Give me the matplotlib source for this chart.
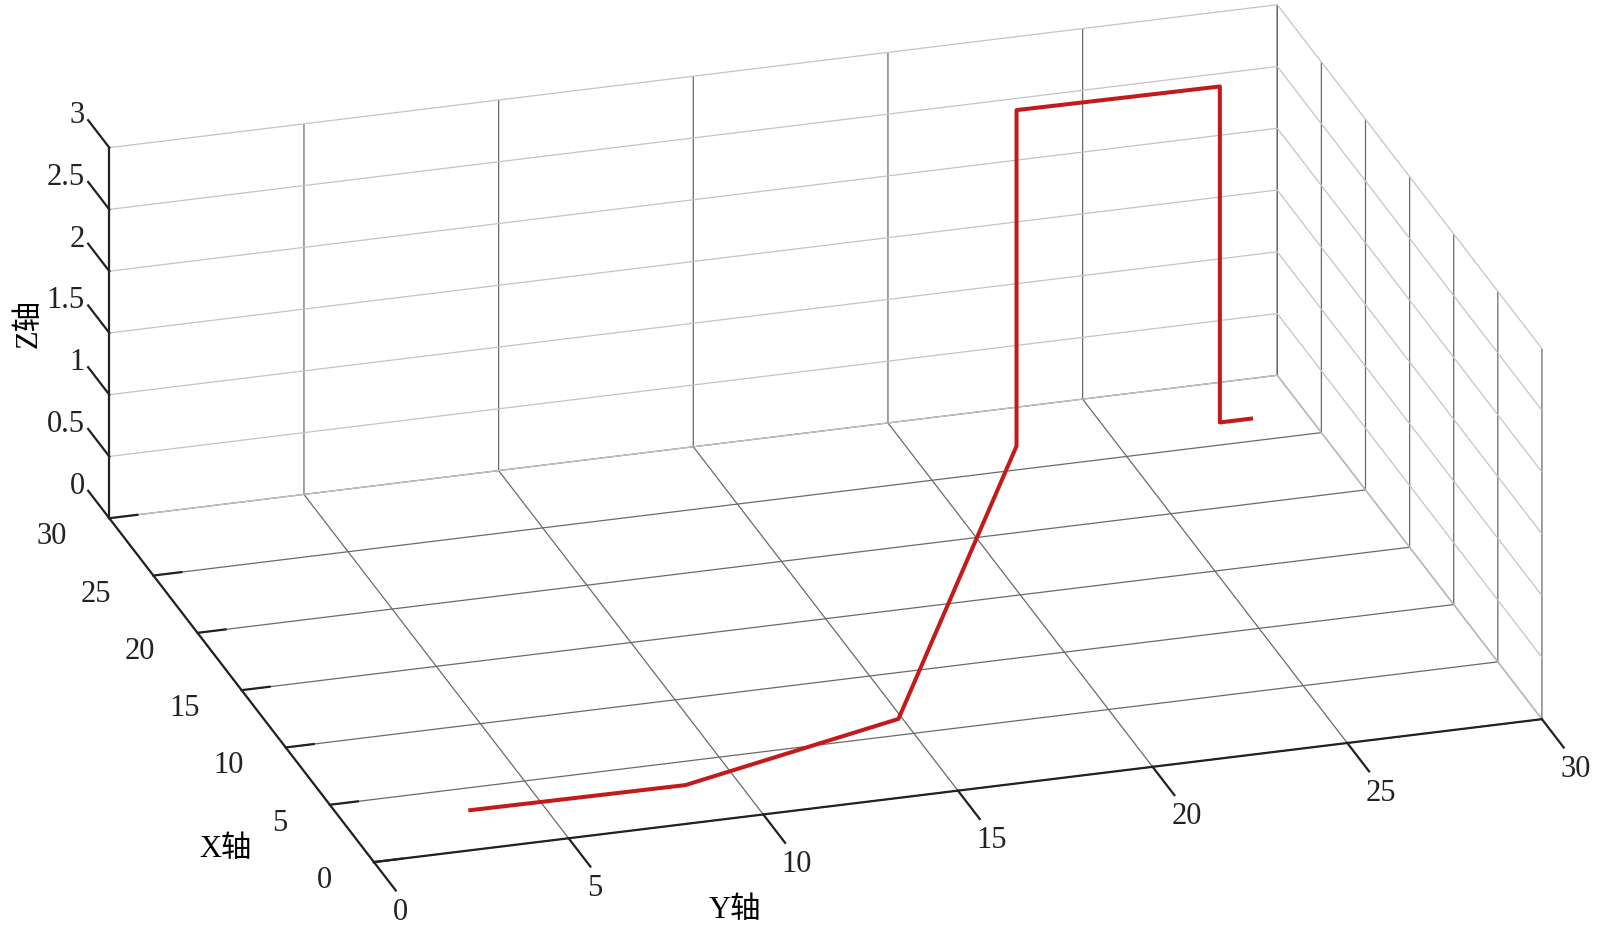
import matplotlib
matplotlib.use("Agg")
import matplotlib.pyplot as plt
import numpy as np

# route waypoints (floor at z=0)
path_x = [3.2, 3.1, 6.3, 26.9, 26.9, 26.8, 26.8, 26.8]
path_y = [3.2, 8.7, 14.9, 22.6, 22.6, 27.8, 27.8, 28.6]
path_z = [0, 0, 0, 0, 2.72, 2.72, 0, 0]

xy_ticks = [0, 5, 10, 15, 20, 25, 30]
z_ticks = [0, 0.5, 1, 1.5, 2, 2.5, 3]
z_tick_labels = ["0", "0.5", "1", "1.5", "2", "2.5", "3"]

plt.rcParams['font.family'] = ['Liberation Serif', 'Noto Sans CJK SC']

fig = plt.figure(figsize=(16, 9.33), dpi=100)
ax = fig.add_axes([0.0025, -0.3447, 1, 1.714], projection='3d', proj_type='ortho')
ax.plot(path_x, path_y, path_z, color='#c41a1a', lw=2.9, zorder=10)

ax.set_xlim(30, 0, view_margin=0)
ax.set_ylim(0, 30, view_margin=0)
ax.set_zlim(0, 3, view_margin=0)
ax.set_xticks(xy_ticks)
ax.set_yticks(xy_ticks)
ax.set_zticks(z_ticks)
ax.set_zticklabels(z_tick_labels)
ax.set_box_aspect((903, 1223, 404.5), zoom=0.954)
ax.view_init(elev=23.5, azim=-17.06)

# matlab-like box: z axis on the left front edge, ticks pointing back
ax.zaxis._axinfo['juggled'] = (1, 2, 0)
ax.zaxis._axmask = lambda: [True, False, False]

for axis in [ax.xaxis, ax.yaxis, ax.zaxis]:
    axis.set_pane_color((1, 1, 1, 1))
    axis._axinfo['tick']['inward_factor'] = 0
    axis._axinfo['tick']['linewidth'] = {True: 1.6, False: 0.5}
    axis.line.set_color('#222222')
    axis.line.set_linewidth(1.6)
ax.xaxis._axinfo['grid'].update(color='#6a6a6a', linewidth=0.9)
ax.yaxis._axinfo['grid'].update(color='#6a6a6a', linewidth=0.9)
ax.zaxis._axinfo['grid'].update(color='#c4c4c4', linewidth=0.9)
ax.xaxis._axinfo['tick']['outward_factor'] = 0.30
ax.yaxis._axinfo['tick']['outward_factor'] = -1.03  # x is reversed, so flip
ax.zaxis._axinfo['tick']['outward_factor'] = 1.0

ax.tick_params(axis='both', colors='#222222', labelsize=22)
ax.xaxis.set_tick_params(pad=13.6)
ax.yaxis.set_tick_params(pad=34)
ax.zaxis.set_tick_params(pad=48)
for lbl in ax.get_xticklabels():
    lbl.set_ha('right')
    lbl.set_va('center')
for lbl in ax.get_yticklabels():
    lbl.set_ha('left')
    lbl.set_va('center')
for lbl in ax.get_zticklabels():
    lbl.set_ha('right')
    lbl.set_va('center')

fig.text(0.141, 0.090, "X轴", fontsize=22, ha='center', va='center')
fig.text(0.459, 0.024, "Y轴", fontsize=22, ha='center', va='center')
fig.text(0.018, 0.653, "Z轴", fontsize=22, ha='center', va='center', rotation=90)

fig.savefig("out.png", dpi=100)
